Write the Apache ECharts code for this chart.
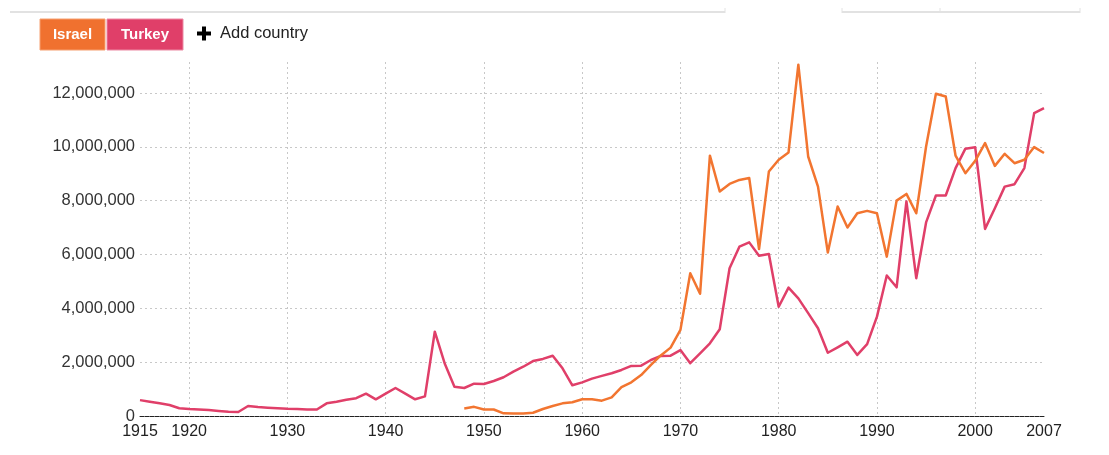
<!DOCTYPE html>
<html>
<head>
<meta charset="utf-8">
<script src="https://cdn.jsdelivr.net/npm/echarts@6/dist/echarts.min.js"></script>
<style>
html,body{margin:0;padding:0;background:#fff;}
#chart{width:1109px;height:455px;}
</style>
</head>
<body>
<div id="chart"></div>
<script>
const years = [1915,1916,1917,1918,1919,1920,1921,1922,1923,1924,1925,1926,1927,1928,1929,1930,1931,1932,1933,1934,1935,1936,1937,1938,1939,1940,1941,1942,1943,1944,1945,1946,1947,1948,1949,1950,1951,1952,1953,1954,1955,1956,1957,1958,1959,1960,1961,1962,1963,1964,1965,1966,1967,1968,1969,1970,1971,1972,1973,1974,1975,1976,1977,1978,1979,1980,1981,1982,1983,1984,1985,1986,1987,1988,1989,1990,1991,1992,1993,1994,1995,1996,1997,1998,1999,2000,2001,2002,2003,2004,2005,2006,2007];

const turkey = [590000,530000,470000,410000,290000,260000,240000,220000,190000,160000,150000,370000,330000,310000,290000,270000,260000,240000,240000,470000,530000,600000,660000,830000,620000,830000,1040000,830000,620000,730000,3130000,1960000,1090000,1040000,1200000,1190000,1300000,1440000,1650000,1830000,2040000,2120000,2240000,1770000,1140000,1250000,1390000,1490000,1590000,1710000,1860000,1870000,2080000,2230000,2240000,2450000,1960000,2330000,2700000,3220000,5490000,6290000,6450000,5950000,6020000,4060000,4770000,4370000,3820000,3260000,2350000,2550000,2760000,2270000,2670000,3690000,5220000,4780000,7970000,5120000,7190000,8190000,8190000,9210000,9930000,9980000,6950000,7720000,8520000,8610000,9210000,11250000,11440000];

const israelYears = [1948,1949,1950,1951,1952,1953,1954,1955,1956,1957,1958,1959,1960,1961,1962,1963,1964,1965,1966,1967,1968,1969,1970,1971,1972,1973,1974,1975,1976,1977,1978,1979,1980,1981,1982,1983,1984,1985,1986,1987,1988,1989,1990,1991,1992,1993,1994,1995,1996,1997,1998,1999,2000,2001,2002,2003,2004,2005,2006,2007];
const israel = [280000,340000,240000,240000,100000,90000,90000,120000,260000,370000,470000,510000,620000,620000,570000,690000,1070000,1250000,1520000,1900000,2250000,2540000,3200000,5300000,4540000,9670000,8340000,8620000,8770000,8840000,6200000,9080000,9520000,9790000,13050000,9640000,8520000,6070000,7780000,7000000,7530000,7620000,7530000,5920000,8000000,8250000,7530000,10010000,11970000,11870000,9670000,9020000,9480000,10140000,9290000,9740000,9390000,9520000,9990000,9770000];

const xLabelYears = [1915,1920,1930,1940,1950,1960,1970,1980,1990,2000,2007];
const gridYears = [1920,1930,1940,1950,1960,1970,1980,1990,2000];
const yTicks = [0,2000000,4000000,6000000,8000000,10000000,12000000];

const israelFull = years.map(y => { const i = israelYears.indexOf(y); return i >= 0 ? israel[i] : null; });

const ISRAEL = '#f27530';
const TURKEY = '#e03f69';
const FONT = 'Liberation Sans';

function fmt(v){ return String(v).replace(/\B(?=(\d{3})+(?!\d))/g, ','); }

const chart = echarts.init(document.getElementById('chart'), null, {renderer:'canvas'});
chart.setOption({
  animation:false,
  backgroundColor:'#fff',
  textStyle:{fontFamily:FONT},
  grid:{left:140,right:65,top:62,bottom:39,containLabel:false},
  xAxis:{
    type:'category',
    data:years.map(String),
    boundaryGap:false,
    axisLine:{show:true,lineStyle:{color:'#222',width:1,type:[4,1]}},
    axisTick:{show:false},
    axisLabel:{
      color:'#222',fontSize:16,margin:8,fontFamily:FONT,
      interval:(i,v)=>xLabelYears.indexOf(+v)>=0
    },
    splitLine:{
      show:true,
      interval:(i,v)=>gridYears.indexOf(+v)>=0,
      lineStyle:{color:'#c8c8c8',type:[2,3],width:1}
    }
  },
  yAxis:{
    type:'value',
    min:0,max:13150000,interval:2000000,
    axisLine:{show:false},
    axisTick:{show:false},
    axisLabel:{
      color:'#333',fontSize:16.5,margin:5,fontFamily:FONT,
      formatter:v=> yTicks.indexOf(v)>=0 ? fmt(v) : ''
    },
    splitLine:{show:true,showMinLine:false,showMaxLine:false,lineStyle:{color:'#c8c8c8',type:[2,3],width:1}}
  },
  series:[
    {name:'Turkey',type:'line',data:turkey,showSymbol:false,symbol:'none',lineStyle:{color:TURKEY,width:2.5,join:'round'},itemStyle:{color:TURKEY},z:3},
    {name:'Israel',type:'line',data:israelFull,showSymbol:false,symbol:'none',connectNulls:false,lineStyle:{color:ISRAEL,width:2.5,join:'round'},itemStyle:{color:ISRAEL},z:4}
  ],
  graphic:[
    {type:'line',shape:{x1:10,y1:12,x2:725,y2:12},style:{stroke:'#e2e2e2',lineWidth:2}},
    {type:'line',shape:{x1:842,y1:12,x2:1080,y2:12},style:{stroke:'#e2e2e2',lineWidth:2}},
    {type:'line',shape:{x1:725,y1:8,x2:725,y2:13},style:{stroke:'#e2e2e2',lineWidth:1}},
    {type:'line',shape:{x1:842,y1:8,x2:842,y2:13},style:{stroke:'#e2e2e2',lineWidth:1}},
    {type:'line',shape:{x1:940,y1:8,x2:940,y2:13},style:{stroke:'#e2e2e2',lineWidth:1}},
    {type:'line',shape:{x1:1080,y1:8,x2:1080,y2:13},style:{stroke:'#e2e2e2',lineWidth:1}},
    {type:'rect',shape:{x:40,y:19,width:65,height:31},style:{fill:'#f0712f',stroke:'#f6a070',lineWidth:1}},
    {type:'text',x:72.5,y:34.5,style:{text:'Israel',fill:'#fff',fontFamily:FONT,fontSize:15,fontWeight:'bold',align:'center',verticalAlign:'middle'}},
    {type:'rect',shape:{x:107,y:19,width:76,height:31},style:{fill:'#e03f69',stroke:'#ec8aa4',lineWidth:1}},
    {type:'text',x:145,y:34.5,style:{text:'Turkey',fill:'#fff',fontFamily:FONT,fontSize:15,fontWeight:'bold',align:'center',verticalAlign:'middle'}},
    {type:'rect',shape:{x:197,y:31.5,width:14,height:4},style:{fill:'#000'}},
    {type:'rect',shape:{x:202,y:26.5,width:4,height:14},style:{fill:'#000'}},
    {type:'text',x:220,y:33,style:{text:'Add country',fill:'#222',fontFamily:FONT,fontSize:16.5,verticalAlign:'middle'}}
  ]
});
</script>
</body>
</html>
